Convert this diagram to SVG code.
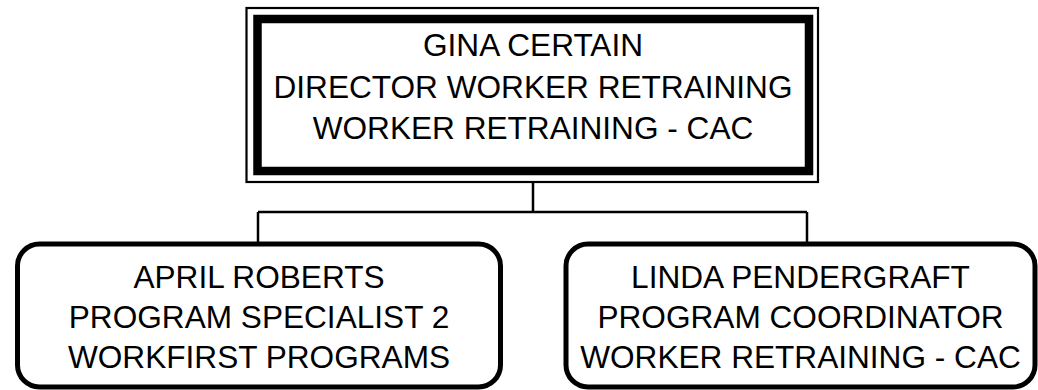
<svg xmlns="http://www.w3.org/2000/svg" width="1038" height="390" viewBox="0 0 1038 390">
<style>
.t{font-family:"Liberation Sans",Arial,sans-serif;font-size:31.6px;fill:#000;text-anchor:middle}
.thin{fill:none;stroke:#000;stroke-width:2.2}
.thick{fill:none;stroke:#000;stroke-width:8.5}
.child{fill:#fff;stroke:#000;stroke-width:5}
.con{fill:none;stroke:#000;stroke-width:2.5}
</style>
<rect width="1038" height="390" fill="#fff"/>
<g id="connectors">
<path class="con" d="M533 182V212M258 212H807M258 212V243M807 212V243"/>
</g>
<g id="node-gina">
<rect class="thin" x="246.5" y="8" width="571.5" height="174"/>
<rect class="thick" x="257.5" y="19" width="551.5" height="152"/>
<text class="t" x="533" y="56">GINA CERTAIN</text>
<text class="t" x="533" y="97.5">DIRECTOR WORKER RETRAINING</text>
<text class="t" x="533" y="138.5">WORKER RETRAINING - CAC</text>
</g>
<g id="node-april">
<rect class="child" x="17.5" y="244" width="483" height="143" rx="22"/>
<text class="t" x="259" y="288.3">APRIL ROBERTS</text>
<text class="t" x="259" y="328.3">PROGRAM SPECIALIST 2</text>
<text class="t" x="259" y="368.3">WORKFIRST PROGRAMS</text>
</g>
<g id="node-linda">
<rect class="child" x="566" y="244" width="469" height="143" rx="22"/>
<text class="t" x="800.5" y="288.3">LINDA PENDERGRAFT</text>
<text class="t" x="800.5" y="328.3">PROGRAM COORDINATOR</text>
<text class="t" x="800.5" y="368.3">WORKER RETRAINING - CAC</text>
</g>
</svg>
